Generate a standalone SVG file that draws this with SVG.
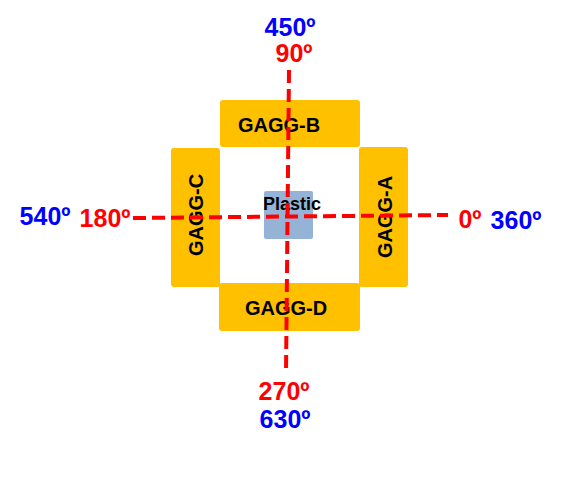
<svg xmlns="http://www.w3.org/2000/svg" width="561" height="479" viewBox="0 0 561 479">
<style>
.det{fill:#FFC000}
.lbl{font-family:"Liberation Sans",Arial,sans-serif;font-weight:bold;font-size:20px;fill:#000;text-anchor:middle}
.ang{font-family:"Liberation Sans",Arial,sans-serif;font-weight:bold;font-size:25px;text-anchor:middle}
.red{fill:#FF0000}
.blue{fill:#0000FF}
.axis{stroke:#FF0000;stroke-width:4;stroke-dasharray:13,6;fill:none}
</style>
<rect width="561" height="479" fill="#fff"/>
<g id="gagg-b"><rect class="det" x="220" y="100" width="140" height="47" rx="3"/><text class="lbl" x="279" y="132">GAGG-B</text></g>
<g id="gagg-c"><rect class="det" x="171" y="148" width="49" height="139" rx="3"/><text class="lbl" transform="translate(203,215) rotate(-90)">GAGG-C</text></g>
<g id="gagg-a"><rect class="det" x="359" y="147" width="49" height="140" rx="3"/><text class="lbl" transform="translate(392,217) rotate(-90)">GAGG-A</text></g>
<g id="gagg-d"><rect class="det" x="219" y="283" width="141" height="48" rx="3"/><text class="lbl" x="286" y="315">GAGG-D</text></g>
<g id="plastic"><rect x="264" y="191" width="49" height="48" rx="2" fill="#95B3D7"/><text class="lbl" style="font-size:18px" x="292" y="210">Plastic</text></g>
<g id="connectors">
<line class="axis" x1="289" y1="70" x2="286" y2="373"/>
<line class="axis" x1="133" y1="218" x2="448" y2="215"/>
</g>
<g id="labels">
<text class="ang blue" x="290" y="36">450º</text>
<text class="ang red" x="294" y="62">90º</text>
<text class="ang blue" x="45" y="225">540º</text>
<text class="ang red" x="105" y="227">180º</text>
<text class="ang red" x="470" y="228">0º</text>
<text class="ang blue" x="516" y="229">360º</text>
<text class="ang red" x="284" y="400">270º</text>
<text class="ang blue" x="285" y="428">630º</text>
</g>
</svg>
